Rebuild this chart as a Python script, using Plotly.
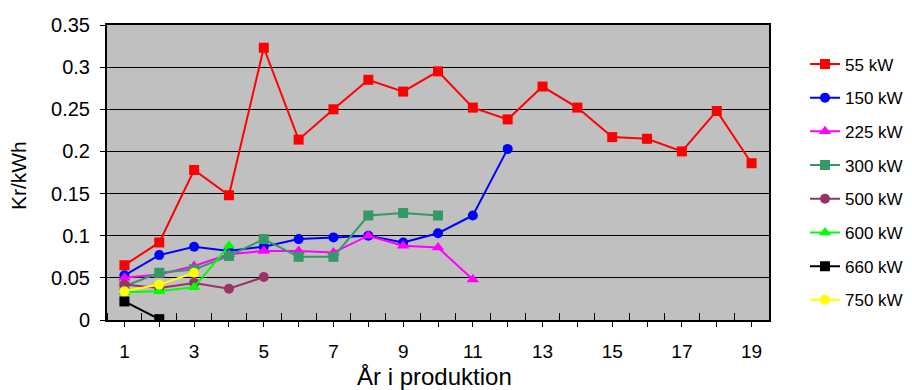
import plotly.graph_objects as go

years = list(range(1, 20))

kw55 = [0.065, 0.092, 0.178, 0.148, 0.323, 0.214, 0.250, 0.285, 0.271, 0.295,
        0.252, 0.238, 0.277, 0.252, 0.217, 0.215, 0.200, 0.248, 0.186]
kw150 = [0.053, 0.077, 0.087, 0.082, 0.087, 0.096, 0.098, 0.100, 0.092, 0.103, 0.124, 0.203]
kw225 = [0.050, 0.054, 0.064, 0.078, 0.082, 0.082, 0.080, 0.100, 0.088, 0.086, 0.048]
kw300 = [0.040, 0.056, 0.060, 0.076, 0.096, 0.075, 0.075, 0.124, 0.127, 0.124]
kw500 = [0.042, 0.038, 0.044, 0.037, 0.051]
kw600 = [0.033, 0.034, 0.039, 0.088]
kw660 = [0.022, 0.001]
kw750 = [0.034, 0.042, 0.056]

series = [
    ("55 kW", kw55, "#FF0000", "square"),
    ("150 kW", kw150, "#0000FF", "circle"),
    ("225 kW", kw225, "#FF00FF", "triangle-up"),
    ("300 kW", kw300, "#339966", "square"),
    ("500 kW", kw500, "#993366", "circle"),
    ("600 kW", kw600, "#00FF00", "triangle-up"),
    ("660 kW", kw660, "#000000", "square"),
    ("750 kW", kw750, "#FFFF00", "circle"),
]

y_tickvals = [0, 0.05, 0.1, 0.15, 0.2, 0.25, 0.3, 0.35]
y_ticktext = ["0", "0.05", "0.1", "0.15", "0.2", "0.25", "0.3", "0.35"]
x_ticktext = [str(v) if v % 2 == 1 else "" for v in years]

fig = go.Figure()
for name, vals, color, sym in series:
    size = 11 if sym == "triangle-up" else 10
    fig.add_trace(go.Scatter(
        x=years[:len(vals)], y=vals, name=name, mode="lines+markers",
        legendgroup=name,
        line=dict(color=color, width=2),
        marker=dict(symbol=sym, size=size, color=color),
    ))

font = "Liberation Sans, Arial, sans-serif"
# page body has an 8px margin; the figure is sized so the plot area lands where the
# reference has it, and the legend has room without pushing the margins
fig.update_layout(
    width=920, height=382,
    margin=dict(l=99, r=159, t=17, b=70),
    paper_bgcolor="white",
    plot_bgcolor="#C0C0C0",
    font=dict(family=font, size=20, color="black"),
    showlegend=True,
    legend=dict(x=1.0544, y=0.9275, xanchor="left", yanchor="top", maxheight=1,
                font=dict(size=17), tracegroupgap=8.6,
                bgcolor="rgba(0,0,0,0)"),
    annotations=[
        dict(text="Kr/kWh", xref="paper", yref="paper",
             x=-0.1335, y=0.49,
             xanchor="center", yanchor="middle", textangle=-90,
             showarrow=False, font=dict(size=21)),
        dict(text="År i produktion", xref="paper", yref="paper",
             x=0.495, y=-0.19, xanchor="center", yanchor="middle",
             showarrow=False, font=dict(size=24)),
    ],
)
fig.update_xaxes(
    range=[0.5, 19.5], tickvals=years, ticktext=x_ticktext,
    ticks="outside", ticklen=5, tickcolor="black", tickwidth=1,
    minor=dict(tick0=0.5, dtick=1, ticks="inside", ticklen=7, tickcolor="black", tickwidth=1, showgrid=False),
    showgrid=False, zeroline=False, automargin=False,
    showline=True, linecolor="black", linewidth=2, mirror=True,
    tickfont=dict(size=19), ticklabelstandoff=8,
)
fig.update_yaxes(
    range=[0, 0.35], tickvals=y_tickvals, ticktext=y_ticktext,
    ticks="outside", ticklen=5, tickcolor="black", tickwidth=1,
    showgrid=True, gridcolor="black", gridwidth=1, zeroline=False, automargin=False,
    showline=True, linecolor="black", linewidth=2, mirror=True,
    tickfont=dict(size=20), ticklabelstandoff=6,
)

fig.write_html("out.html")
